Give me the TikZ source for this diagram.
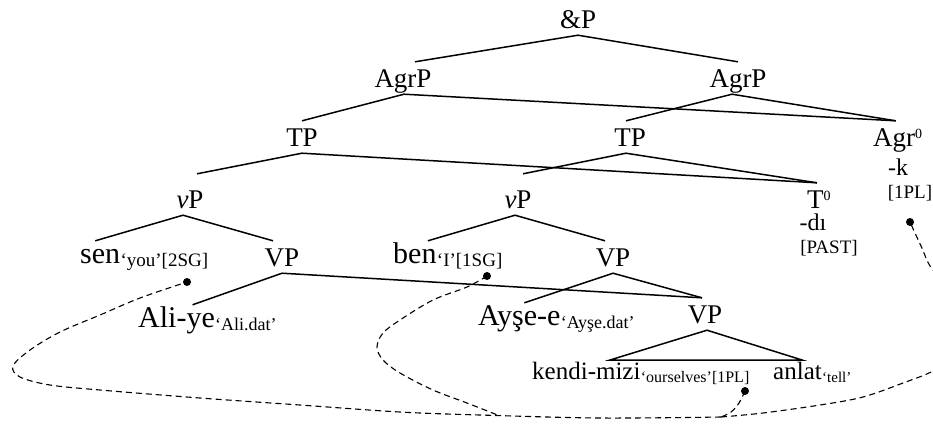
\documentclass[tikz,border=0pt]{standalone}
\usepackage{fontspec}
\setmainfont{Liberation Serif}
\newcommand\supz{\raisebox{8pt}{\fontsize{14}{14}\selectfont 0}}
\tikzset{
 lab/.style={font=\fontsize{27}{30}\selectfont, inner xsep=0pt, inner ysep=7pt, text height=18pt, text depth=0pt, anchor=base},
 wd/.style={font=\fontsize{30}{32}\selectfont, inner xsep=0pt, inner ysep=3pt, text height=19pt, text depth=0pt, anchor=base west},
 gl/.style={font=\fontsize{19}{21}\selectfont, inner sep=0pt, anchor=base west, yshift=-3pt},
 sub/.style={font=\fontsize{24}{26}\selectfont, inner sep=0pt, anchor=base},
 feat/.style={font=\fontsize{19}{21}\selectfont, inner sep=0pt, anchor=base},
 br/.style={line width=1.5pt},
 dsh/.style={line width=1.1pt, dash pattern=on 6pt off 4pt},
 dotn/.style={circle, fill=black, inner sep=0pt, minimum size=8pt},
}
\begin{document}
\begin{tikzpicture}[x=1pt,y=-1pt]
\useasboundingbox[fill=white] (0,0) rectangle (933,424);
% labels
\node[lab] (andP) at (578,28) {\&P};
\node[lab] (agrL) at (403,87) {AgrP};
\node[lab] (agrR) at (738,87) {AgrP};
\node[lab] (tpL) at (302,146) {TP};
\node[lab] (tpR) at (630,146) {TP};
\node[lab, anchor=base west] (agr0) at (873,146) {Agr\supz};
\node[sub] (agrk) at (898,175) {-k};
\node[feat] (agrf) at (910,198) {[1PL]};
\node[lab] (vpL) at (190,208) {\textit{v}P};
\node[lab] (vpR) at (518,208) {\textit{v}P};
\node[lab, anchor=base west] (t0) at (807,208) {T\supz};
\node[sub] (tdi) at (813,230) {-dı};
\node[feat] (tf) at (829,253) {[PAST]};
\node[wd] (sen) at (80,263) {sen};
\node[gl] (senG) at (sen.base east) {‘you’[2SG]};
\node[lab] (VPL) at (282,266) {VP};
\node[wd] (ben) at (393,263) {ben};
\node[gl] (benG) at (ben.base east) {‘I’[1SG]};
\node[lab] (VPM) at (613,266) {VP};
\node[wd] (ali) at (138,327) {Ali-ye};
\node[gl, font=\fontsize{18}{20}\selectfont] (aliG) at (ali.base east) {‘Ali.dat’};
\node[wd] (ayse) at (478,325) {Ayşe-e};
\node[gl, font=\fontsize{18}{20}\selectfont] (ayseG) at (ayse.base east) {‘Ayşe.dat’};
\node[lab] (VPlo) at (705,323) {VP};
\node[wd, font=\fontsize{25}{28}\selectfont] (kendi) at (532,379) {kendi-mizi};
\node[gl, font=\fontsize{16}{18}\selectfont] (kendiG) at (kendi.base east) {‘ourselves’[1PL]};
\node[wd, font=\fontsize{25}{28}\selectfont] (anlat) at (773,379) {anlat};
\node[gl, font=\fontsize{15}{17}\selectfont] (anlatG) at (anlat.base east) {‘tell’};
\coordinate (tl) at (610,360);
\coordinate (tr) at (802,360);
% branches
\draw[br] (andP.south) -- ([xshift=12pt]agrL.north);
\draw[br] (andP.south) -- (agrR.north);
\draw[br] ([xshift=1pt]agrL.south) -- (tpL.north);
\draw[br] ([xshift=1pt]agrL.south) -- ([xshift=-2pt]agr0.north);
\draw[br] ([xshift=-6pt]agrR.south) -- ([xshift=-4pt]tpR.north);
\draw[br] ([xshift=-6pt]agrR.south) -- ([xshift=-2pt]agr0.north);
\draw[br] (tpL.south) -- ([xshift=7pt,yshift=9pt]vpL.north);
\draw[br] (tpL.south) -- ([xshift=-2pt]t0.north);
\draw[br] ([xshift=-4pt]tpR.south) -- ([xshift=5pt,yshift=9pt]vpR.north);
\draw[br] ([xshift=-4pt]tpR.south) -- ([xshift=-2pt]t0.north);
\draw[br] ([xshift=-7pt]vpL.south) -- ([xshift=-5pt]sen.north);
\draw[br] ([xshift=-7pt]vpL.south) -- ([xshift=-9pt]VPL.north);
\draw[br] ([xshift=-3pt]vpR.south) -- ([xshift=13pt]ben.north);
\draw[br] ([xshift=-3pt]vpR.south) -- ([xshift=-8pt]VPM.north);
\draw[br] (VPL.south) -- ([xshift=16pt]ali.north);
\draw[br] (VPL.south) -- ([xshift=-3pt]VPlo.north);
\draw[br] (VPM.south) -- ([xshift=5pt]ayse.north);
\draw[br] (VPM.south) -- ([xshift=-3pt]VPlo.north);
\draw[br] ([xshift=2pt]VPlo.south) -- (tl) -- (tr) -- cycle;
% dots
\node[dotn] (sdot) at (187,282) {};
\node[dotn] (bdot) at (487,276) {};
\node[dotn] (adot) at (910,222) {};
\node[dotn] (kdot) at (745,391) {};
\coordinate (j) at (721,417);
\coordinate (m) at (500,416);
% dashed binding lines
\draw[dsh] plot[smooth, tension=0.6] coordinates {(kdot) (739,403) (731,412) (j)};
\draw[dsh] plot[smooth, tension=0.55] coordinates {(j) (600,418) (480,415) (400,412) (300,405) (200,398) (100,390) (50,385) (20,377) (13,366) (30,350) (60,332) (100,315) (140,298) (sdot)};
\draw[dsh] plot[smooth, tension=0.55] coordinates {(bdot) (467,287) (433,300) (400,320) (383,333) (377,347) (383,360) (400,373) (433,390) (467,403) (m)};
\draw[dsh] plot[smooth, tension=0.55] coordinates {(j) (763,413) (820,405) (863,397) (903,383) (933,371) (962,352) (975,320) (960,290) (933,270) (921,246) (adot)};
\end{tikzpicture}
\end{document}
